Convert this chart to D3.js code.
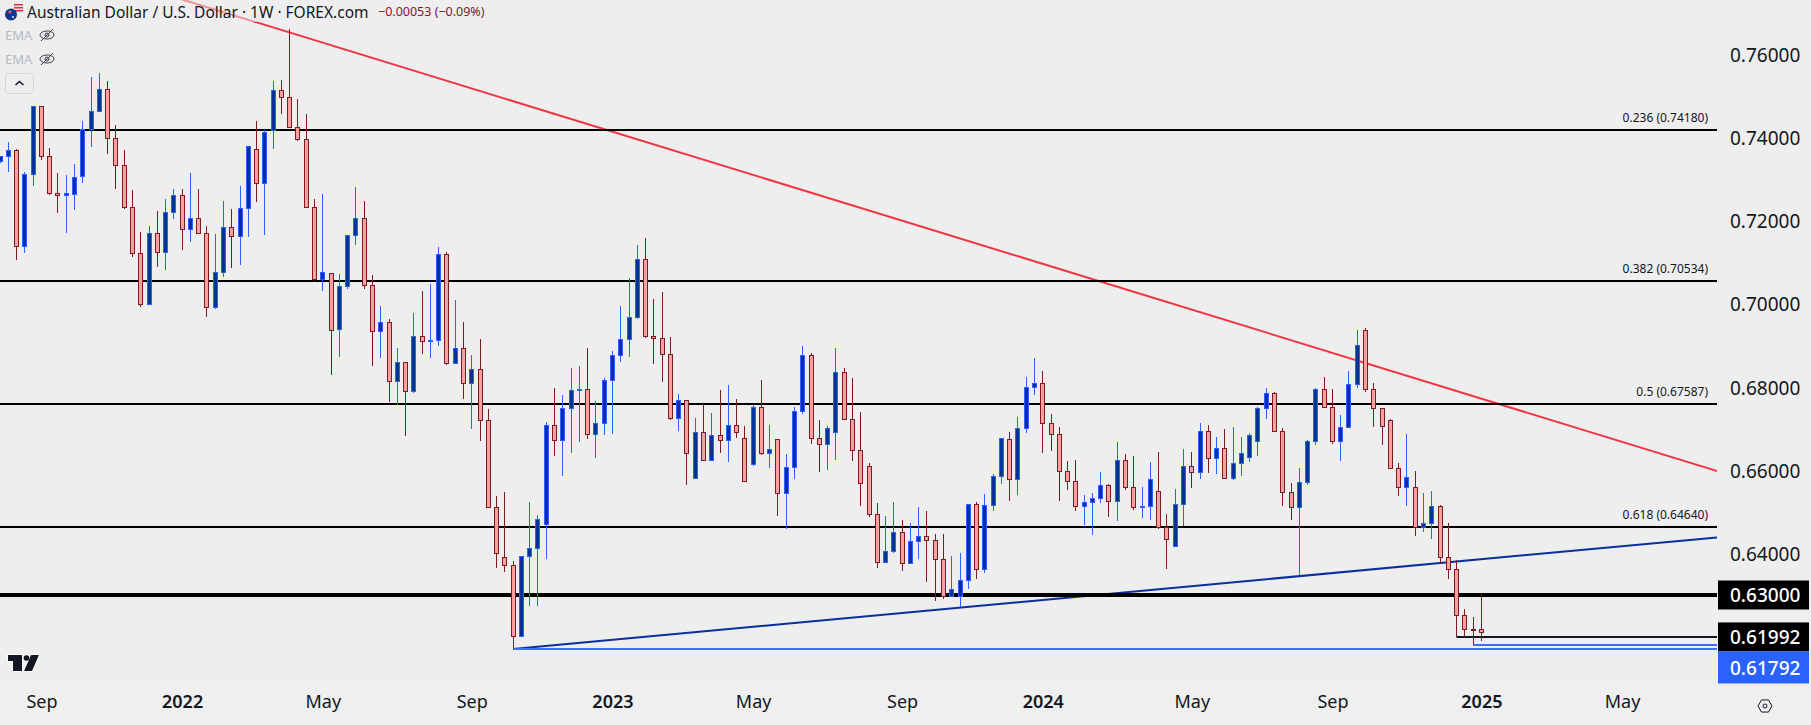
<!DOCTYPE html>
<html>
<head>
<meta charset="utf-8">
<script src="https://cdn.jsdelivr.net/npm/d3@7"></script>
<style>
	html, body { margin: 0; padding: 0; background: #eeeeee; overflow: hidden; }
	svg { display: block; }
	text { font-family: "Noto Sans", sans-serif; fill: #131722; }
	.domain { display: none; }
</style>
</head>
<body>
<svg id="chart" width="1811" height="725"></svg>
<script>
// weekly bars, first entry is the half hidden one on the left edge
var weeks = d3.utcMonday.range(new Date(Date.UTC(2021,7,2)), new Date(Date.UTC(2025,0,7)));

var opens = [.73425,.73537,.73689,.71374,.73112,.74747,.73545,.72656,.72608,.72648,.73056,.74194,.74627,.75156,.73978,.73329,.72319,.71213,.69979,.71694,.71237,.72199,.72608,.7179,.72055,.71694,.69915,.70757,.71838,.71622,.72295,.73713,.72896,.7417,.75132,.74963,.74242,.73954,.72319,.70588,.70749,.69386,.7042,.71646,.72055,.70444,.69338,.69555,.68136,.68593,.67896,.69218,.69098,.69122,.71189,.68569,.6893,.68088,.68425,.67199,.65107,.63905,.63713,.62006,.6393,.64122,.64699,.67079,.66718,.67487,.67936,.67944,.66862,.67127,.6816,.68761,.69146,.69675,.71069,.69218,.6917,.68785,.67247,.6768,.65805,.6691,.66237,.66838,.66718,.67079,.66766,.66141,.67511,.66406,.66742,.65444,.66069,.67415,.68761,.66766,.66622,.6691,.68353,.67223,.66478,.66093,.64939,.63785,.6405,.64506,.63761,.6429,.6441,.64314,.63857,.62968,.62968,.63353,.6518,.63617,.65156,.65853,.66742,.65781,.67007,.67992,.68088,.67127,.66862,.65973,.65732,.65131,.65228,.65324,.65636,.65252,.66237,.65588,.65099,.65131,.65492,.64627,.6417,.6518,.66093,.65941,.66934,.66285,.66526,.65805,.66165,.66309,.66694,.67487,.67848,.66934,.65468,.65107,.65708,.66694,.67944,.67511,.66694,.67031,.68064,.69362,.67944,.67487,.67199,.66045,.65588,.65588,.64627,.64723,.65131,.63905,.63617,.62511,.62175,.62175];
var highs = [.7356,.73882,.73713,.73161,.74747,.74747,.73737,.73144,.73088,.73361,.74386,.75444,.7554,.75348,.7429,.73697,.72728,.71718,.71862,.72223,.72511,.72752,.72752,.73144,.72752,.71862,.7167,.72463,.72271,.72824,.73785,.74386,.7417,.75348,.75372,.76598,.74915,.74555,.72511,.72632,.70749,.70708,.71646,.728,.72463,.70684,.69939,.69627,.68938,.68593,.69771,.703,.70468,.71366,.71237,.70084,.69555,.68761,.69146,.67463,.65372,.65468,.63809,.6393,.65228,.64915,.67151,.67968,.678,.68449,.68497,.6893,.67656,.68208,.68857,.69939,.70612,.71406,.71574,.70108,.70276,.69194,.67824,.6768,.67247,.67583,.67367,.6792,.6804,.67704,.67055,.67559,.6816,.67079,.66742,.66382,.67511,.68978,.68809,.67199,.67055,.6893,.68449,.68208,.67391,.66165,.65204,.64891,.65228,.64795,.64723,.65107,.65011,.64458,.64458,.6393,.64002,.6518,.65228,.6542,.65901,.66766,.6691,.67271,.68233,.68689,.68377,.67343,.67031,.66213,.66237,.65396,.65444,.65949,.6566,.6667,.66382,.66333,.65588,.66189,.6643,.64939,.6554,.66502,.6643,.67127,.67079,.6679,.66982,.67031,.6679,.66886,.67511,.67968,.67872,.67007,.65684,.66045,.66718,.67968,.68233,.67944,.67319,.68377,.69362,.6941,.68088,.67487,.67223,.66165,.66862,.65973,.65444,.65492,.65156,.64723,.63833,.62655,.62463,.63016];
var lows = [.7338,.73153,.71053,.71229,.7284,.73441,.72616,.72191,.7171,.72255,.72912,.73777,.74627,.73609,.72768,.72271,.71133,.69931,.69979,.70893,.70821,.72047,.71301,.71494,.71694,.69691,.69883,.70652,.70869,.70941,.71614,.72455,.71662,.73729,.74547,.74242,.73898,.72319,.7054,.70316,.68297,.68729,.70364,.71422,.70364,.68505,.68705,.67648,.67567,.66822,.67864,.68801,.68705,.68994,.68529,.68569,.67712,.66991,.6671,.65107,.63657,.63561,.6170,.62006,.62736,.62736,.63873,.66349,.65869,.66422,.66686,.66758,.66301,.66854,.66878,.68601,.68729,.69627,.69186,.68561,.68128,.67199,.6695,.65652,.65805,.66237,.66237,.66422,.66205,.66782,.65732,.66093,.66373,.66061,.64907,.64595,.65797,.67343,.66638,.65965,.66013,.66253,.67223,.66229,.65148,.64883,.63657,.63785,.64018,.63585,.63761,.63873,.63321,.62864,.62896,.62968,.6272,.63152,.63393,.63537,.65027,.65676,.65268,.65412,.66902,.67816,.66422,.6647,.65268,.65532,.65027,.64691,.6445,.6522,.64883,.64787,.65532,.65051,.64859,.64811,.64579,.63633,.6417,.64651,.6558,.65797,.65925,.65909,.65805,.65773,.65861,.66197,.66341,.67239,.66934,.65148,.64803,.63481,.65652,.66598,.67511,.66622,.66229,.67007,.67984,.67872,.67031,.66598,.66021,.65388,.65148,.64426,.64506,.64354,.63761,.63393,.61992,.61992,.61792,.61902];
var closes = [.73537,.73689,.71374,.73112,.74747,.73537,.72648,.726,.72656,.73056,.74194,.74627,.75156,.73978,.73329,.72319,.71213,.69979,.71694,.71237,.72199,.72608,.7179,.72055,.71694,.69915,.70757,.71838,.71622,.72295,.73785,.72896,.74122,.75132,.74963,.74242,.73954,.72319,.70588,.70757,.69386,.7042,.71646,.72055,.70444,.69338,.69555,.68136,.68593,.67896,.69218,.69098,.69122,.71189,.68569,.6893,.68088,.68425,.67199,.65107,.64002,.63713,.62006,.6393,.64122,.64819,.67079,.66718,.67487,.6792,.67944,.66862,.67127,.6816,.68761,.69146,.69675,.71069,.69218,.6917,.68785,.67247,.6768,.66406,.6691,.66237,.66838,.66718,.67079,.6691,.65732,.67511,.66406,.66502,.65444,.66069,.67415,.68761,.66766,.66622,.67007,.68353,.67223,.66478,.65684,.64939,.63785,.6405,.64506,.63761,.6429,.6441,.64314,.63857,.62968,.63136,.63353,.6518,.63617,.65156,.65853,.66766,.65781,.67007,.67992,.68088,.67127,.66862,.65973,.65732,.65131,.65228,.65324,.65636,.65252,.66237,.65588,.65099,.65131,.65781,.64627,.64338,.6518,.66093,.65941,.66934,.66285,.66526,.65805,.66165,.66406,.66838,.67487,.67848,.66934,.65468,.65107,.65708,.66694,.67944,.67511,.66694,.67031,.68064,.69002,.67944,.67487,.67055,.66045,.65588,.65829,.64627,.64723,.65131,.63905,.63617,.62511,.62175,.62167,.62103];

// levels
var fibRatios = ["0.236", "0.382", "0.5", "0.618"];
var fibLevels = [0.7418, 0.70534, 0.67587, 0.6464];
var roundLevel = 0.63;
var swingLevel = 0.61992;
var lowLevels = [0.61702, 0.61792];
var priceTicks = [0.64, 0.66, 0.68, 0.70, 0.72, 0.74, 0.76];
var redTrendDates = [Date.UTC(2022,0,3), Date.UTC(2025,6,28)];
var redTrendPrices = [0.7731, 0.65947];
var blueTrendDates = [Date.UTC(2022,9,10), Date.UTC(2025,6,28)];
var blueTrendPrices = [0.6170, 0.64394];
var lowStarts = [Date.UTC(2022,9,10), Date.UTC(2024,11,30)];
var swingStart = Date.UTC(2024,11,16);
// time axis, TV puts the label on first bar of the month
var timeTicks = [Date.UTC(2021,8,6), Date.UTC(2022,0,3), Date.UTC(2022,4,2), Date.UTC(2022,8,5), Date.UTC(2023,0,2), Date.UTC(2023,4,1), Date.UTC(2023,8,4), Date.UTC(2024,0,1), Date.UTC(2024,4,6), Date.UTC(2024,8,2), Date.UTC(2025,0,6), Date.UTC(2025,4,5)];
var timeLabels = ["Sep", "2022", "May", "Sep", "2023", "May", "Sep", "2024", "May", "Sep", "2025", "May"];

var W = 1811, H = 725, plotW = 1717, plotH = 685;
var UP_FILL = "#0d2f9b", UP_LINE = "#2962ff", DOWN_FILL = "#f9a0a0", DOWN_LINE = "#801922", INK = "#131722";

var svg = d3.select("#chart");
var x = d3.scaleUtc().domain([weeks[1], weeks[weeks.length-1]]).range([8.33, 1481.4]);
var y = d3.scaleLinear().domain([0.76, 0.63]).range([54, 595]);
var px = function(d){ return Math.floor(x(d)) + 0.5; };

svg.append("rect").attr("width", W).attr("height", H).attr("fill", "#eeeeee");
svg.append("rect").attr("y", plotH).attr("width", W).attr("height", H - plotH).attr("fill", "#efefef");
svg.append("clipPath").attr("id", "plot-clip").append("rect")
	.attr("width", plotW).attr("height", plotH);

var plot = svg.append("g").attr("clip-path", "url(#plot-clip)");

// trend lines go first, black levels sit on top of them
function trend(dates, prices, color){
	var line = d3.line().x(function(d){ return x(d[0]); }).y(function(d){ return y(d[1]); });
	plot.append("path").attr("d", line(d3.zip(dates, prices)))
		.attr("fill", "none").attr("stroke", color).attr("stroke-width", 2);
}
trend(redTrendDates, redTrendPrices, "#f23645");
trend(blueTrendDates, blueTrendPrices, "#0d2f9b");

plot.selectAll(".fib").data(fibLevels).enter().append("line").attr("class", "fib")
	.attr("x1", 0).attr("x2", plotW)
	.attr("y1", function(d){ return Math.round(y(d)); })
	.attr("y2", function(d){ return Math.round(y(d)); })
	.attr("stroke", "#000").attr("stroke-width", 2);
plot.append("line").attr("x1", 0).attr("x2", plotW)
	.attr("y1", y(roundLevel)).attr("y2", y(roundLevel))
	.attr("stroke", "#000").attr("stroke-width", 4);
plot.append("line").attr("x1", x(swingStart)).attr("x2", plotW)
	.attr("y1", Math.round(y(swingLevel))).attr("y2", Math.round(y(swingLevel)))
	.attr("stroke", INK).attr("stroke-width", 2);
plot.selectAll(".low").data(lowLevels).enter().append("line").attr("class", "low")
	.attr("x1", function(d,i){ return x(lowStarts[i]); }).attr("x2", plotW)
	.attr("y1", function(d){ return Math.round(y(d)); })
	.attr("y2", function(d){ return Math.round(y(d)); })
	.attr("stroke", "#3d6cff").attr("stroke-width", 2);

// candles
var bars = plot.selectAll(".bar").data(weeks).enter().append("g").attr("class", "bar");
function isUp(i){ return closes[i] >= opens[i]; }
bars.append("line")
	.attr("x1", function(d){ return px(d); }).attr("x2", function(d){ return px(d); })
	.attr("y1", function(d,i){ return Math.round(y(highs[i])); })
	.attr("y2", function(d,i){ return Math.round(y(lows[i])); })
	.attr("stroke", function(d,i){ return isUp(i) ? UP_LINE : DOWN_LINE; });
bars.append("rect")
	.attr("x", function(d){ return px(d) - 2; })
	.attr("width", 4)
	.attr("y", function(d,i){ return Math.round(y(Math.max(opens[i], closes[i]))) + 0.5; })
	.attr("height", function(d,i){ return Math.max(1, Math.round(Math.abs(y(opens[i]) - y(closes[i])))); })
	.attr("fill", function(d,i){ return isUp(i) ? UP_FILL : DOWN_FILL; })
	.attr("stroke", function(d,i){ return isUp(i) ? UP_LINE : DOWN_LINE; });

// fib captions
svg.selectAll(".fib-label").data(fibLevels).enter().append("text").attr("class", "fib-label")
	.attr("x", 1708).attr("y", function(d){ return y(d) - 8; })
	.attr("text-anchor", "end").attr("font-size", 12)
	.text(function(d,i){ return fibRatios[i] + " (" + d.toFixed(5) + ")"; });

// price axis
var yAxis = d3.axisRight(y).tickValues(priceTicks).tickSize(0).tickPadding(12)
	.tickFormat(d3.format(".5f"));
var yG = svg.append("g").attr("transform", "translate(" + (plotW + 1) + ",0)").call(yAxis);
yG.selectAll("text").attr("font-size", 19).attr("fill", INK).attr("dy", "0.38em").style("font-family", null);

// price tags on the axis
var tagH = 29, tagY = y(swingLevel) - tagH / 2;
function tag(top, h, color, value){
	svg.append("rect").attr("x", plotW + 1).attr("y", top).attr("width", 91).attr("height", h).attr("fill", color);
	svg.append("text").attr("x", plotW + 13).attr("y", top + h / 2).attr("dy", "0.38em")
		.attr("font-size", 19).attr("font-weight", 500).style("fill", "#fff").text(d3.format(".5f")(value));
}
tag(y(roundLevel) - tagH / 2, tagH, "#000", roundLevel);
tag(tagY, tagH, "#000", swingLevel);
tag(tagY + tagH, 32, "#2962ff", lowLevels[1]);

// time axis
var xAxis = d3.axisBottom(x).tickValues(timeTicks).tickSize(0).tickPadding(10)
	.tickFormat(function(d,i){ return timeLabels[i]; });
var xG = svg.append("g").attr("transform", "translate(0," + plotH + ")").call(xAxis);
xG.selectAll("text").attr("font-size", 18).attr("fill", INK).style("font-family", null)
	.attr("font-weight", function(d,i){ return /^\d/.test(timeLabels[i]) ? 600 : 400; });

// legend
var legend = svg.append("g");
legend.append("rect").attr("width", 490).attr("height", 22).attr("fill", "#eeeeee").attr("opacity", 0.5);
legend.append("circle").attr("cx", 17.5).attr("cy", 7.5).attr("r", 5.5).attr("fill", "#e8e8ee");
[4, 7, 10].forEach(function(dy){
	legend.append("rect").attr("x", 14).attr("y", dy).attr("width", 9).attr("height", 1.5).attr("fill", "#d8323c");
});
legend.append("circle").attr("cx", 11).attr("cy", 14.5).attr("r", 6).attr("fill", "#13378f");
legend.append("circle").attr("cx", 10).attr("cy", 12).attr("r", 1.6).attr("fill", "#e05a5a");
legend.append("circle").attr("cx", 13).attr("cy", 17).attr("r", 0.9).attr("fill", "#fff");
legend.append("text").attr("x", 27).attr("y", 18).attr("font-size", 15.5)
	.text("Australian Dollar / U.S. Dollar · 1W · FOREX.com");
legend.append("text").attr("x", 378).attr("y", 16).attr("font-size", 12.5).style("fill", DOWN_LINE)
	.text("−0.00053 (−0.09%)");

[35, 59].forEach(function(cy){
	legend.append("text").attr("x", 5).attr("y", cy + 5).attr("font-size", 13).style("fill", "#b6b9c2").text("EMA");
	legend.append("ellipse").attr("cx", 47).attr("cy", cy).attr("rx", 7).attr("ry", 4)
		.attr("fill", "none").attr("stroke", "#3a3d46");
	legend.append("circle").attr("cx", 47).attr("cy", cy).attr("r", 2)
		.attr("fill", "none").attr("stroke", "#3a3d46");
	legend.append("line").attr("x1", 41).attr("x2", 53).attr("y1", cy + 6).attr("y2", cy - 6)
		.attr("stroke", "#3a3d46");
});
legend.append("rect").attr("x", 5.5).attr("y", 73.5).attr("width", 28).attr("height", 20).attr("rx", 3)
	.attr("fill", "none").attr("stroke", "#d4d6dc");
legend.append("path").attr("d", "M15.5 85 L19.5 81.5 L23.5 85").attr("fill", "none")
	.attr("stroke", INK).attr("stroke-width", 1.5);

// tv logo
var logo = svg.append("g");
var logoShapes = ["M8 655H22V671H13V661H8Z", "M31 655H39L32 671H24Z"];
logoShapes.forEach(function(p){
	logo.append("path").attr("d", p).attr("fill", INK).attr("stroke", "#fff").attr("stroke-width", 2).attr("paint-order", "stroke");
});
logo.append("circle").attr("cx", 26.5).attr("cy", 658).attr("r", 2.8).attr("fill", INK);

// settings icon
var hex = d3.range(6).map(function(i){
	var a = Math.PI / 3 * i;
	return [1765 + 7 * Math.cos(a), 706 + 7 * Math.sin(a)];
});
svg.append("path").attr("d", d3.line()(hex) + "Z").attr("fill", "none").attr("stroke", INK);
svg.append("circle").attr("cx", 1765).attr("cy", 706).attr("r", 2).attr("fill", "none").attr("stroke", INK);
</script>
</body>
</html>
